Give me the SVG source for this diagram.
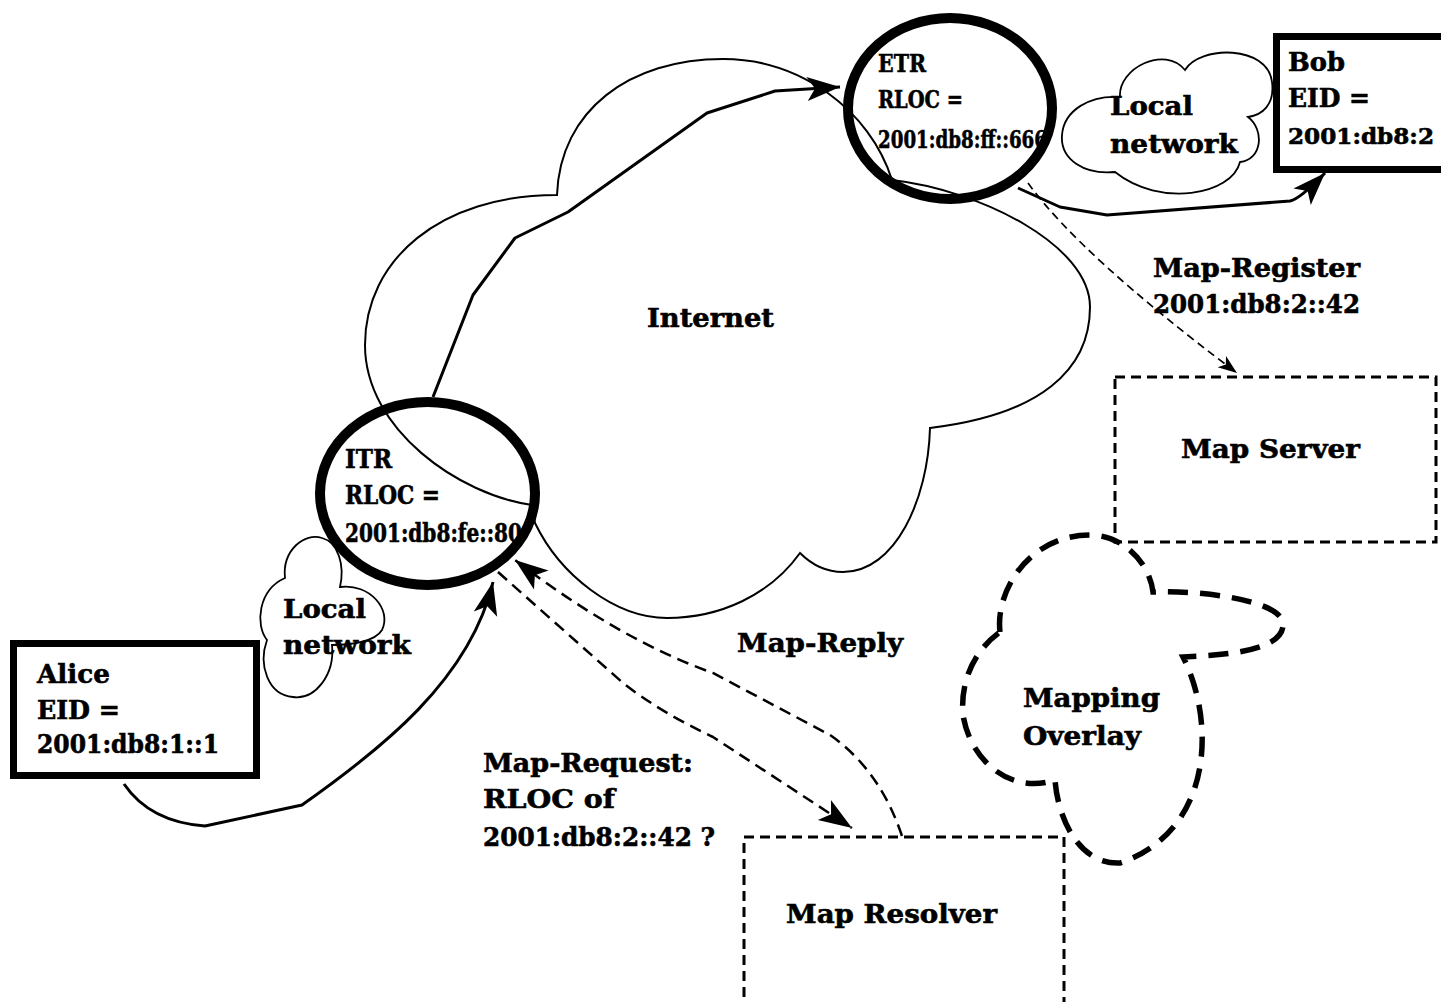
<svg xmlns="http://www.w3.org/2000/svg" width="1441" height="1002" viewBox="0 0 1441 1002">
<style>
text{font-family:"DejaVu Serif","Liberation Serif",serif;font-weight:bold;font-size:26px;fill:#000;stroke:#000;stroke-width:0.6}
.cond{font-size:25px}
.cloud{fill:none;stroke:#000;stroke-width:2}
.lcloud{fill:none;stroke:#000;stroke-width:1.8}
.ring{fill:none;stroke:#000;stroke-width:10}
.host{fill:none;stroke:#000;stroke-width:7}
.srv{fill:none;stroke:#000;stroke-width:3;stroke-dasharray:10 6}
.overlay{fill:none;stroke:#000;stroke-width:5.5;stroke-dasharray:20 12}
.solid{fill:none;stroke:#000;stroke-width:3;stroke-linejoin:round}
.dash{fill:none;stroke:#000;stroke-width:2.5;stroke-dasharray:12 7}
.dashthin{fill:none;stroke:#000;stroke-width:1.7;stroke-dasharray:8 5}
</style>
<defs>
<marker id="ah" viewBox="-34 -13 35 26" refX="0" refY="0" markerWidth="35" markerHeight="26" markerUnits="userSpaceOnUse" orient="auto">
<path d="M0,0 L-33,-12 L-25,0 L-33,12 Z" fill="#000" stroke="none"/>
</marker>
<marker id="ahs" viewBox="-20 -8 21 16" refX="0" refY="0" markerWidth="21" markerHeight="16" markerUnits="userSpaceOnUse" orient="auto">
<path d="M0,0 L-19,-7 L-14,0 L-19,7 Z" fill="#000" stroke="none"/>
</marker>
</defs>

<g id="internet">
<path class="cloud" d="M532,505 C460,495 365,430 365,345 C365,260 440,195 557,195 C560,110 630,59 723,59 C800,59 870,110 892,180 C980,190 1090,245 1090,307 C1090,370 1040,415 930,428 C928,500 895,572 843,572 C825,572 812,565 800,553 C770,595 720,618 667,618 C615,618 560,575 535,523 Z"/>
<text x="647" y="327" textLength="127" lengthAdjust="spacingAndGlyphs">Internet</text>
</g>

<g id="local-etr">
<path class="lcloud" d="M1120,97 C1118,68 1165,45 1185,70 C1200,45 1268,45 1272,82 C1275,105 1262,115 1248,117 C1265,130 1262,160 1240,162 C1232,195 1160,208 1115,172 C1085,175 1060,160 1062,135 C1064,110 1090,95 1120,97 Z"/>
<text x="1110" y="115" textLength="83" lengthAdjust="spacingAndGlyphs">Local</text>
<text x="1110" y="153" textLength="128" lengthAdjust="spacingAndGlyphs">network</text>
</g>

<g id="local-itr">
<path class="lcloud" d="M285,578 C282,550 305,532 322,538 C338,542 345,565 340,587 C370,583 392,610 382,630 C375,642 350,645 332,645 C335,675 315,700 293,697 C268,695 258,665 267,640 C255,625 258,590 285,578 Z"/>
<text x="283" y="618" textLength="83" lengthAdjust="spacingAndGlyphs">Local</text>
<text x="283" y="654" textLength="128" lengthAdjust="spacingAndGlyphs">network</text>
</g>

<g id="etr">
<ellipse class="ring" cx="950" cy="108.5" rx="102" ry="90.5"/>
<text class="cond" x="878" y="72" textLength="48" lengthAdjust="spacingAndGlyphs">ETR</text>
<text class="cond" x="878" y="108" textLength="85" lengthAdjust="spacingAndGlyphs">RLOC =</text>
<text class="cond" x="878" y="148" textLength="169" lengthAdjust="spacingAndGlyphs">2001:db8:ff::666</text>
</g>

<g id="itr">
<ellipse class="ring" cx="427.5" cy="493.5" rx="107.5" ry="91.5"/>
<text x="345" y="468" textLength="47" lengthAdjust="spacingAndGlyphs">ITR</text>
<text x="345" y="504" textLength="95" lengthAdjust="spacingAndGlyphs">RLOC =</text>
<text x="345" y="542" textLength="177" lengthAdjust="spacingAndGlyphs">2001:db8:fe::80</text>
</g>

<g id="bob">
<rect class="host" x="1276.5" y="36.5" width="190" height="133"/>
<text x="1288" y="71" textLength="57" lengthAdjust="spacingAndGlyphs">Bob</text>
<text x="1288" y="107" textLength="82" lengthAdjust="spacingAndGlyphs">EID =</text>
<text x="1288" y="144" style="font-size:22.5px" textLength="146" lengthAdjust="spacingAndGlyphs">2001:db8:2</text>
</g>

<g id="alice">
<rect class="host" x="13.5" y="643.5" width="243" height="132"/>
<text x="37" y="683" textLength="73" lengthAdjust="spacingAndGlyphs">Alice</text>
<text x="37" y="719" textLength="83" lengthAdjust="spacingAndGlyphs">EID =</text>
<text x="37" y="753" textLength="182" lengthAdjust="spacingAndGlyphs">2001:db8:1::1</text>
</g>

<g id="map-server">
<rect class="srv" x="1115" y="377" width="321" height="165"/>
<text x="1181" y="458" textLength="179" lengthAdjust="spacingAndGlyphs">Map Server</text>
</g>

<g id="map-resolver">
<rect class="srv" x="744" y="837" width="320" height="200"/>
<text x="786" y="923" textLength="211" lengthAdjust="spacingAndGlyphs">Map Resolver</text>
</g>

<g id="mapping-overlay">
<path class="overlay" d="M1000,632 C995,590 1030,535 1090,535 C1125,535 1150,565 1153,592 C1200,590 1280,600 1283,623 C1285,650 1230,655 1183,657 C1215,720 1215,830 1120,863 C1080,865 1058,820 1055,780 C1010,795 970,760 963,715 C960,680 975,650 1000,632 Z"/>
<text x="1023" y="707" textLength="137" lengthAdjust="spacingAndGlyphs">Mapping</text>
<text x="1023" y="745" textLength="118" lengthAdjust="spacingAndGlyphs">Overlay</text>
</g>

<g id="connectors">
<path class="solid" d="M433,397 L473,295 L515,238 L568,212 L707,113 L775,91 L840,87" marker-end="url(#ah)"/>
<path class="solid" d="M1018,188 L1060,207 L1107,215 L1290,201 Q1300,199 1325,173" marker-end="url(#ah)"/>
<path class="solid" d="M124,784 Q150,822 205,826 L302,805 C380,750 470,680 493,582" marker-end="url(#ah)"/>
<path class="dashthin" d="M1028,183 Q1080,255 1237,373" marker-end="url(#ahs)"/>
<path class="dash" d="M498,572 L623,683 Q660,712 713,737 L852,828" marker-end="url(#ah)"/>
<path class="dash" d="M902,836 Q880,770 830,735 L713,673 Q620,640 515,560" marker-end="url(#ah)"/>
<text x="1153" y="277" textLength="207" lengthAdjust="spacingAndGlyphs">Map-Register</text>
<text x="1153" y="313" textLength="207" lengthAdjust="spacingAndGlyphs">2001:db8:2::42</text>
<text x="737" y="652" textLength="166" lengthAdjust="spacingAndGlyphs">Map-Reply</text>
<text x="483" y="772" textLength="210" lengthAdjust="spacingAndGlyphs">Map-Request:</text>
<text x="483" y="808" textLength="132" lengthAdjust="spacingAndGlyphs">RLOC of</text>
<text x="483" y="846" textLength="232" lengthAdjust="spacingAndGlyphs">2001:db8:2::42 ?</text>
</g>
</svg>
